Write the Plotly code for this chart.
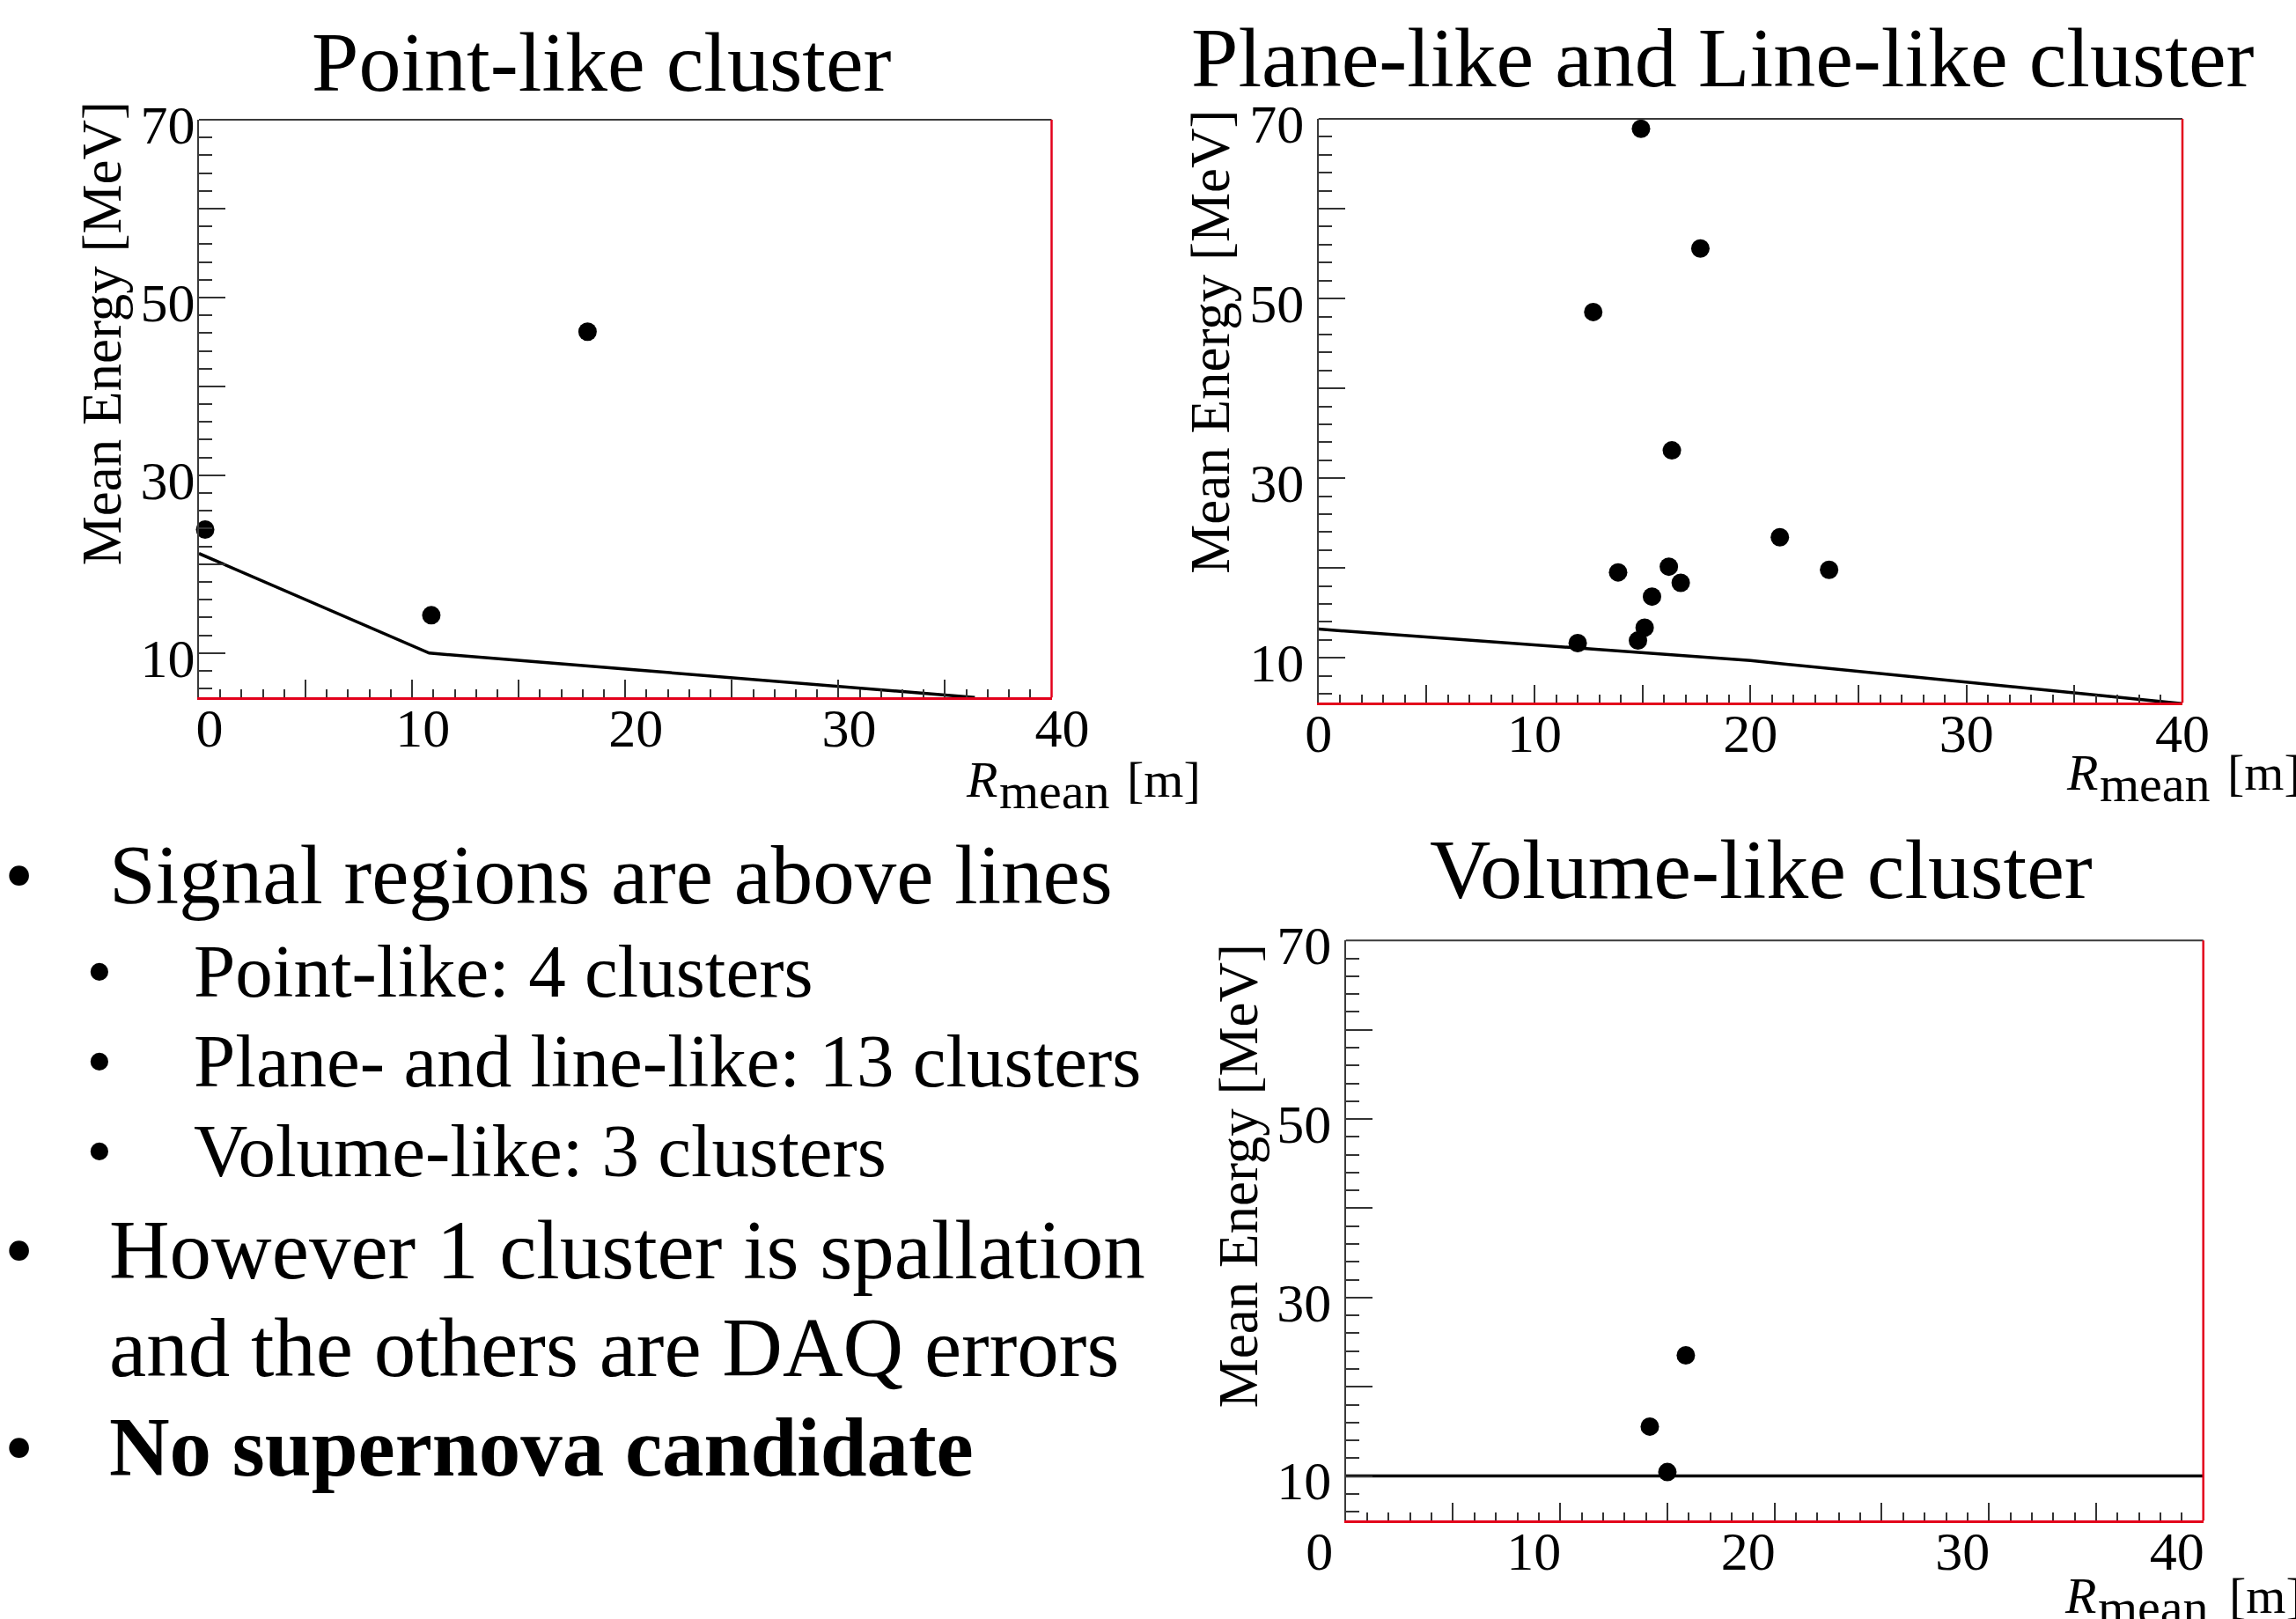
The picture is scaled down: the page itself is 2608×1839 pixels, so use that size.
import plotly.graph_objects as go

# ---- cluster data: mean radius [m] vs mean energy [MeV] ----
point_r = [0.29, 10.9, 18.23]
point_e = [23.9, 14.26, 46.16]
point_cut_r = [0.0, 10.8, 36.4]
point_cut_e = [21.2, 10.0, 5.0]

plane_r = [14.93, 17.68, 12.72, 16.36, 21.36, 23.64, 13.87, 16.22, 16.77, 15.44, 15.10, 14.79, 12.00]
plane_e = [68.9, 55.57, 48.5, 33.1, 23.43, 19.8, 19.52, 20.15, 18.36, 16.82, 13.37, 11.93, 11.64]
plane_cut_r = [0.0, 20.0, 40.0]
plane_cut_e = [13.2, 9.7, 4.9]

volume_r = [15.86, 14.18, 15.0]
volume_e = [23.52, 15.54, 10.45]
volume_cut_r = [0.0, 40.0]
volume_cut_e = [10.0, 10.0]

# ---- axis setup ----
r_range = [0, 40]
e_range = [5, 70]
r_major = [0, 5, 10, 15, 20, 25, 30, 35, 40]
r_labels = ["0", "", "10", "", "20", "", "30", "", "40"]
e_major = [10, 20, 30, 40, 50, 60, 70]
e_labels = ["10", "", "30", "", "50", "", "70"]

panel_titles = ["Point-like cluster", "Plane-like and Line-like cluster", "Volume-like cluster"]
y_title = "Mean Energy [MeV]"
bullets = [
    ("Signal regions are above lines", 0),
    ("Point-like: 4 clusters", 1),
    ("Plane- and line-like: 13 clusters", 1),
    ("Volume-like: 3 clusters", 1),
    ("However 1 cluster is spallation", 0),
    ("and the others are DAQ errors", 2),
    ("<b>No supernova candidate</b>", 0),
]

W, H = 2608, 1839
SERIF = "Liberation Serif"
RED = "#e3001b"
FRAME = "#3a3a3a"
TICK = "#333333"


def px_x(x):
    return x / W


def px_y(y):
    return 1 - y / H


def x_axis(domain, anchor, shift):
    return dict(
        domain=domain, anchor=anchor, range=r_range, fixedrange=True,
        tickmode="array", tickvals=r_major, ticktext=r_labels,
        ticks="inside", ticklen=20, tickwidth=2, tickcolor=TICK,
        minor=dict(tickmode="linear", tick0=0, dtick=1, ticks="inside",
                   ticklen=9, tickwidth=2, tickcolor=TICK, showgrid=False),
        showline=True, linecolor=RED, linewidth=3,
        showgrid=False, zeroline=False, automargin=False,
        tickfont=dict(family=SERIF, size=62, color="black"),
        ticklabelshift=shift, ticklabelstandoff=-22,
    )


def y_axis(domain, anchor, standoff):
    return dict(
        domain=domain, anchor=anchor, range=e_range, fixedrange=True,
        tickmode="array", tickvals=e_major, ticktext=e_labels,
        ticks="inside", ticklen=30, tickwidth=2, tickcolor=TICK,
        minor=dict(tickmode="linear", tick0=0, dtick=2, ticks="inside",
                   ticklen=15, tickwidth=2, tickcolor=TICK, showgrid=False),
        showline=True, linecolor=FRAME, linewidth=2,
        showgrid=False, zeroline=False, automargin=False,
        tickfont=dict(family=SERIF, size=62, color="black"),
        ticklabelshift=5, ticklabelstandoff=standoff,
    )


# panel frames in pixels: (left, right, top, bottom)
frames = [
    (226.0, 1194.5, 136.0, 792.3),
    (1497.7, 2479.0, 135.0, 798.3),
    (1528.7, 2502.7, 1068.3, 1727.3),
]
label_shift = [12, 0, -30]
label_standoff = [-10, 2, 2]

fig = go.Figure()

series = [
    (point_r, point_e, point_cut_r, point_cut_e),
    (plane_r, plane_e, plane_cut_r, plane_cut_e),
    (volume_r, volume_e, volume_cut_r, volume_cut_e),
]

layout_axes = {}
shapes = []
for i, (fr, (r, e, cr, ce)) in enumerate(zip(frames, series)):
    n = "" if i == 0 else str(i + 1)
    xa, ya = "x" + n, "y" + n
    left, right, top, bottom = fr
    layout_axes["xaxis" + n] = x_axis([px_x(left), px_x(right)], ya, label_shift[i])
    layout_axes["yaxis" + n] = y_axis([px_y(bottom), px_y(top)], xa, label_standoff[i])
    fig.add_trace(go.Scatter(x=cr, y=ce, xaxis=xa, yaxis=ya, mode="lines",
                             line=dict(color="black", width=3.5), showlegend=False,
                             hoverinfo="skip"))
    fig.add_trace(go.Scatter(x=r, y=e, xaxis=xa, yaxis=ya, mode="markers",
                             marker=dict(color="black", size=21, symbol="circle"),
                             cliponaxis=False, showlegend=False))
    # top frame edge and red right edge
    shapes.append(dict(type="line", xref=xa + " domain", yref=ya + " domain",
                       x0=0, x1=1, y0=1, y1=1, line=dict(color=FRAME, width=2)))
    shapes.append(dict(type="line", xref=xa + " domain", yref=ya + " domain",
                       x0=1, x1=1, y0=0, y1=1, line=dict(color=RED, width=2.5)))

annotations = []


def add_text(text, x, baseline, size, xanchor="left", angle=0, italic=False):
    if angle == 0:
        yc = baseline - 0.3375 * size
        xc = x
    else:
        # rotated text: 'baseline' here is the x of the baseline, x is the centre y
        xc = baseline - 0.3375 * size
        yc = x
    annotations.append(dict(
        text=text, x=px_x(xc), y=px_y(yc), xref="paper", yref="paper",
        xanchor=xanchor if angle == 0 else "center", yanchor="middle",
        showarrow=False, textangle=angle,
        font=dict(family=SERIF, size=size, color="black",
                  style="italic" if italic else "normal"),
    ))


# panel titles
add_text(panel_titles[0], 683, 102.7, 96, xanchor="center")
add_text(panel_titles[1], 1957, 98.0, 96, xanchor="center")
add_text(panel_titles[2], 2000, 1019.6, 96, xanchor="center")

# y-axis titles (rotated)
add_text(y_title, 378.5, 137, 63, angle=-90)
add_text(y_title, 388.0, 1396, 63, angle=-90)
add_text(y_title, 1335.5, 1428, 63, angle=-90)

# x-axis titles: R_mean [m]
for (rx, mx, bx, base) in [(1095, 1133, 1278, 905), (2345, 2383, 2528, 897), (2343, 2381, 2530, 1832)]:
    add_text("R", rx, base, 58, italic=True)
    add_text("mean", mx, base + 13, 58)
    add_text("[m]", bx, base, 58)

# bullet list
baselines = [1026, 1132, 1234, 1336, 1452, 1563, 1676]
for (txt, level), base in zip(bullets, baselines):
    if level == 0:
        add_text("\u2022", 21, base, 95, xanchor="center")
        add_text(txt, 122, base, 95)
    elif level == 1:
        add_text("\u2022", 113, base, 85, xanchor="center")
        add_text(txt, 218, base, 85)
    else:
        add_text(txt, 122, base, 95)

fig.update_layout(
    width=W, height=H,
    margin=dict(l=0, r=0, t=0, b=0, pad=0, autoexpand=False),
    paper_bgcolor="white", plot_bgcolor="white",
    showlegend=False,
    shapes=shapes, annotations=annotations,
    **layout_axes,
)

fig.write_html("out.html")
